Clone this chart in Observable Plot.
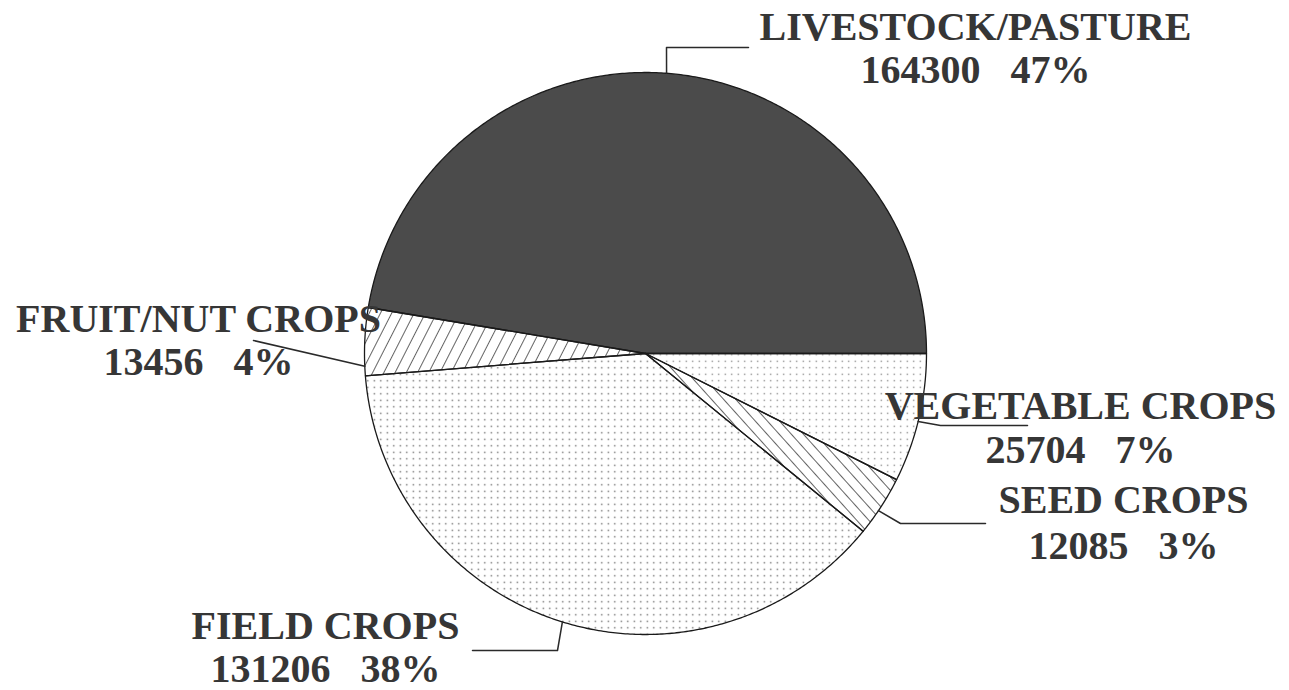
<!DOCTYPE html>
<html><head><meta charset="utf-8">
<script src="https://cdn.jsdelivr.net/npm/d3@7"></script>
<script src="https://cdn.jsdelivr.net/npm/@observablehq/plot@0.6"></script>
<style>
body{margin:0;background:#fff}
#chart svg{display:block}
</style>
</head><body>
<svg width="0" height="0" style="position:absolute">
  <defs>
    <pattern id="dotsA" patternUnits="userSpaceOnUse" width="6.5" height="6.5">
      <rect x="2.6" y="2.6" width="1.4" height="1.4" fill="#6a6a6a"/>
    </pattern>
    <pattern id="dotsB" patternUnits="userSpaceOnUse" width="6.5" height="6.5">
      <rect x="2.6" y="2.6" width="1.3" height="1.3" fill="#7a7a7a"/>
    </pattern>
    <pattern id="hatchA" patternUnits="userSpaceOnUse" width="10" height="10" patternTransform="rotate(27)">
      <line x1="0" y1="-2" x2="0" y2="12" stroke="#222" stroke-width="1.4"/>
    </pattern>
    <pattern id="hatchB" patternUnits="userSpaceOnUse" width="9" height="9" patternTransform="rotate(-42)">
      <line x1="0" y1="-2" x2="0" y2="11" stroke="#222" stroke-width="1.4"/>
    </pattern>
  </defs>
</svg>
<div id="chart"></div>
<script>
// ---- data ----
const categories = ["LIVESTOCK/PASTURE", "FRUIT/NUT CROPS", "FIELD CROPS", "SEED CROPS", "VEGETABLE CROPS"];
const values = [164300, 13456, 131206, 12085, 25704];
const percents = ["47%", "4%", "38%", "3%", "7%"];

// ---- styles / layout ----
const fills = ["#4b4b4b", "url(#hatchA)", "url(#dotsA)", "url(#hatchB)", "url(#dotsB)"];
const W = 1289, H = 690, cx = 645, cy = 353, R = 281;
const layout = [
  {tx: 975, ty1: 39, ty2: 82, a: 85.7, elbow: [666, 47], end: [748, 47]},
  {tx: 198, ty1: 331, ty2: 374, a: 182.6, elbow: null, end: [253, 340]},
  {tx: 325, ty1: 638, ty2: 681, a: 252.8, elbow: [557, 650], end: [472, 650]},
  {tx: 1123, ty1: 512, ty2: 558, a: 326, elbow: [900, 523], end: [985, 523]},
  {tx: 1080, ty1: 418, ty2: 462, a: 346, elbow: [940, 425], end: [1027, 425]}
];

const total = d3.sum(values);
const ends = d3.cumsum(values);
const rad = d => d * Math.PI / 180;
const pt = deg => [cx + R * Math.cos(rad(deg)), cy - R * Math.sin(rad(deg))];

// wedges (counterclockwise from east)
const wedges = categories.map((c, i) => {
  const a0 = (ends[i] - values[i]) / total * 360;
  const a1 = ends[i] / total * 360;
  const pts = [[cx, cy]];
  const n = Math.max(4, Math.ceil((a1 - a0) / 0.5));
  for (let k = 0; k <= n; k++) pts.push(pt(a0 + (a1 - a0) * k / n));
  pts.push([cx, cy]);
  return pts.map(([x, y]) => ({cat: c, x, y}));
});

const leaders = categories.map((c, i) => {
  const L = layout[i];
  const pts = [pt(L.a)];
  if (L.elbow) pts.push(L.elbow);
  pts.push(L.end);
  return pts.map(([x, y]) => ({cat: c, x, y}));
}).flat();

const labels1 = categories.map((c, i) => ({x: layout[i].tx, y: layout[i].ty1, t: c}));
const labels2 = categories.map((c, i) => ({x: layout[i].tx, y: layout[i].ty2, t: values[i] + "\u00a0\u00a0\u00a0" + percents[i]}));

const textOpts = {x: "x", y: "y", text: "t", fontFamily: "'Liberation Serif', 'Times New Roman', serif",
  fontWeight: "bold", fontSize: 40, fill: "#363636", textAnchor: "middle", lineAnchor: "bottom"};

const plot = Plot.plot({
  width: W, height: H, margin: 0,
  style: {background: "#fff"},
  x: {domain: [0, W], range: [0, W], axis: null},
  y: {domain: [0, H], range: [0, H], axis: null},
  marks: [
    ...wedges.map((w, i) => Plot.line(w, {x: "x", y: "y", fill: fills[i], stroke: "#1a1a1a", strokeWidth: 1.3, strokeLinejoin: "round"})),
    Plot.line(leaders, {x: "x", y: "y", z: "cat", stroke: "#2a2a2a", strokeWidth: 1.5}),
    Plot.text(labels1, textOpts),
    Plot.text(labels2, textOpts)
  ]
});
document.getElementById("chart").append(plot);
</script>
</body></html>
